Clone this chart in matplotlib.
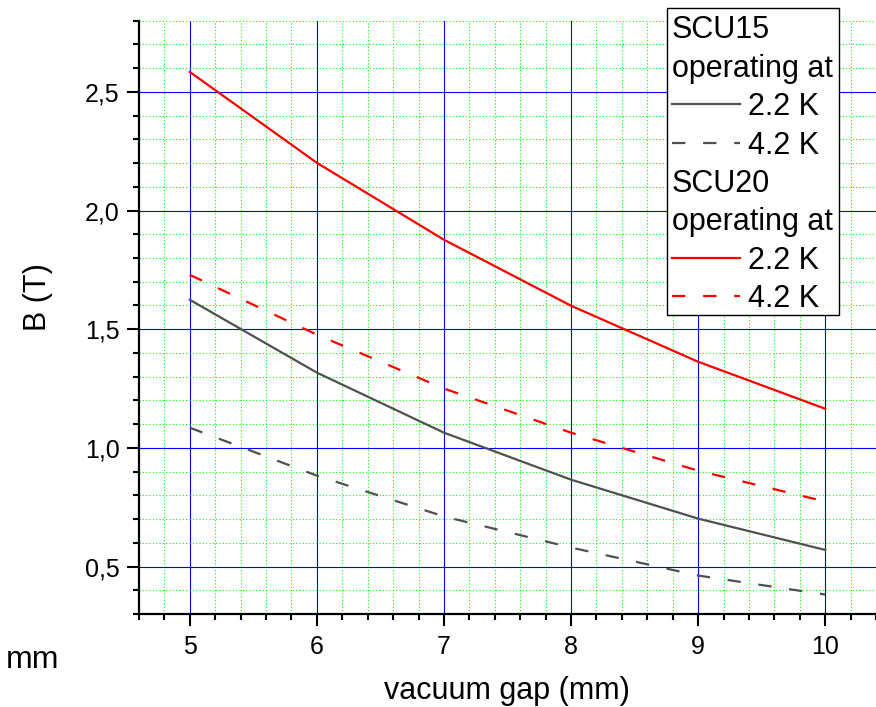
import numpy as np
import matplotlib
matplotlib.use("Agg")
import matplotlib.pyplot as plt
from matplotlib.ticker import MultipleLocator, FuncFormatter
from matplotlib.lines import Line2D
from matplotlib.patches import Rectangle

plt.rcParams['font.family'] = ['Liberation Sans', 'DejaVu Sans']

# vacuum gap (mm)
gap = [5, 6, 7, 8, 9, 10]
# peak field B (T)
scu15_22 = [1.624, 1.317, 1.064, 0.866, 0.702, 0.570]
scu15_42 = [1.085, 0.883, 0.711, 0.580, 0.462, 0.382]
scu20_22 = [2.584, 2.201, 1.877, 1.599, 1.363, 1.165]
scu20_42 = [1.729, 1.477, 1.250, 1.064, 0.904, 0.774]

gray = '#505050'
red = '#ff0000'
dash = (0, (6, 8))

W, H = 876, 707
fig = plt.figure(figsize=(W / 100, H / 100), dpi=100)
ax = fig.add_axes([139 / W, 93 / H, 737 / W, 593.3 / H])

ax.plot(gap, scu15_22, color=gray, lw=1.6, zorder=3)
ax.plot(gap, scu15_42, color=gray, lw=1.6, ls=dash, zorder=3)
ax.plot(gap, scu20_22, color=red, lw=1.6, zorder=3)
ax.plot(gap, scu20_42, color=red, lw=1.6, ls=dash, zorder=3)

ax.set_xlim(4.6, 10.4)
ax.set_ylim(0.3, 2.8)
ax.xaxis.set_major_locator(MultipleLocator(1))
ax.xaxis.set_minor_locator(MultipleLocator(0.2))
ax.yaxis.set_major_locator(MultipleLocator(0.5))
ax.yaxis.set_minor_locator(MultipleLocator(0.1))
ax.yaxis.set_major_formatter(FuncFormatter(lambda v, p: f"{v:.1f}".replace('.', ',')))

ax.set_axisbelow(True)
ax.grid(which='major', color='#0000ff', lw=0.8, ls='-')
ax.grid(which='minor', color='#00ff00', lw=0.8, ls=(0, (1, 2)))

for s in ['top', 'right']:
    ax.spines[s].set_visible(False)
for s in ['left', 'bottom']:
    ax.spines[s].set_linewidth(1.6)
ax.tick_params(which='major', length=8.5, width=1.5, labelsize=18)
ax.tick_params(axis='y', which='major', pad=5.5)
ax.tick_params(axis='x', which='major', pad=6.5)
ax.tick_params(which='minor', length=4.5, width=1.5)

fig.text(507 / W, 1 - 699 / H, 'vacuum gap (mm)', fontsize=22, ha='center', va='baseline')
fig.text(38 / W, 1 - 297 / H, 'B (T)', fontsize=22, rotation=90, ha='center', va='center')
fig.text(6 / W, 1 - 668 / H, 'mm', fontsize=23, ha='left', va='baseline')

# legend box
fig.patches.append(Rectangle((667 / W, 1 - 315 / H), 172 / W, 307 / H,
                             transform=fig.transFigure, facecolor='white',
                             edgecolor='black', lw=1.0, zorder=5))
rows = [('SCU15', None, None), ('operating at', None, None),
        ('2.2 K', gray, '-'), ('4.2 K', gray, dash),
        ('SCU20', None, None), ('operating at', None, None),
        ('2.2 K', red, '-'), ('4.2 K', red, dash)]
for i, (label, col, style) in enumerate(rows):
    base = 38.5 + 38.35 * i
    if col is None:
        fig.text(672 / W, 1 - base / H, label, fontsize=22, va='baseline', ha='left', zorder=6)
    else:
        fig.text(748 / W, 1 - base / H, label, fontsize=22, va='baseline', ha='left', zorder=6)
        yl = 1 - (base - 11) / H
        fig.lines.append(Line2D([672 / W, 740 / W], [yl, yl], transform=fig.transFigure,
                                color=col, lw=1.6, ls=style, zorder=6))

fig.savefig('out.png', dpi=100)
